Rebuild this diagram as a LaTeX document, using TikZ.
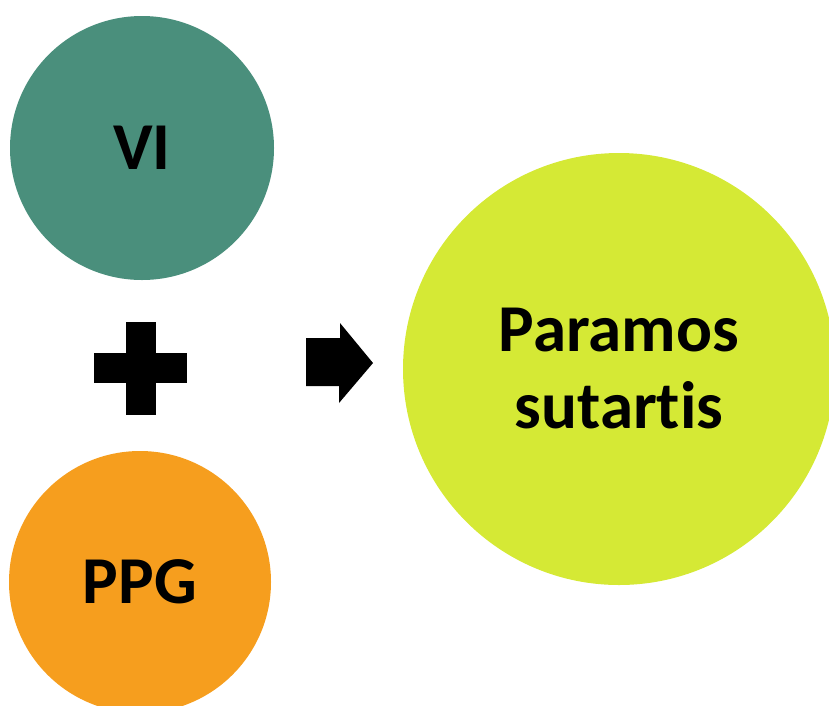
\documentclass[tikz,border=0pt]{standalone}
\usepackage{fontspec}
\setmainfont{Carlito}[Ligatures={NoCommon}]
\definecolor{viteal}{RGB}{74,143,124}
\definecolor{ppgorange}{RGB}{246,158,30}
\definecolor{paramlime}{RGB}{213,233,53}
\tikzset{
  bubble/.style={circle, inner sep=0pt, draw=none, align=center,
    font=\fontsize{67}{77}\selectfont\bfseries, text=black},
  symbolshape/.style={fill=black, draw=none}
}
\begin{document}
\begin{tikzpicture}[x=1pt,y=-1pt]
\useasboundingbox (0,0) rectangle (829,705);
\begin{scope}
\clip (0,0) rectangle (829,705);
\node[bubble, fill=viteal, minimum size=264pt] (vi) at (142,148) {VI};
\node[bubble, fill=ppgorange, minimum size=262pt] (ppg) at (140,582) {PPG};
\node[bubble, fill=paramlime, minimum size=432pt] (ps) at (619,369) {Paramos\\sutartis};
\end{scope}
\fill[symbolshape] (126,322) rectangle (156,415);
\fill[symbolshape] (94,353) rectangle (187,383);
\fill[symbolshape] (306,338) -- (340,338) -- (340,323) -- (373,363) -- (339,403) -- (339,386) -- (306,386) -- cycle;
\end{tikzpicture}
\end{document}
